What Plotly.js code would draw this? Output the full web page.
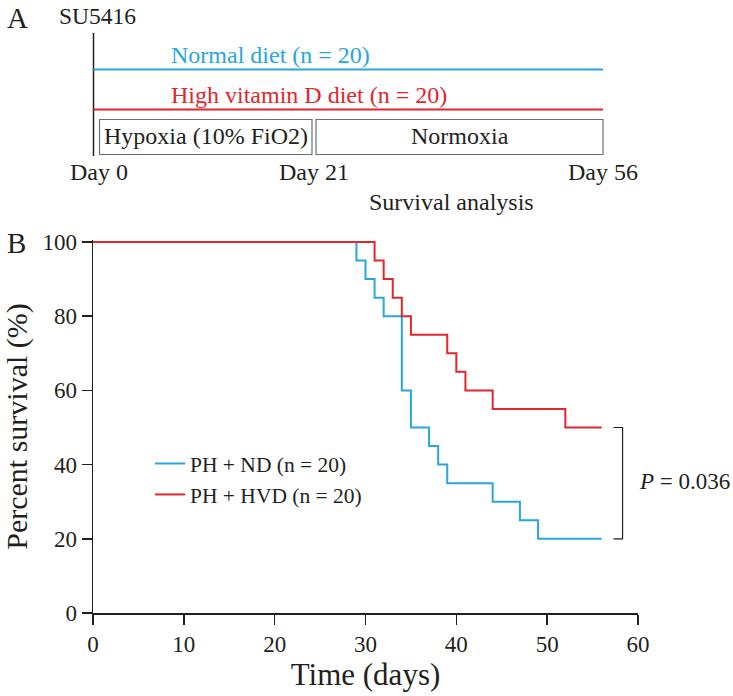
<!DOCTYPE html>
<html>
<head>
<meta charset="utf-8">
<script src="https://cdn.plot.ly/plotly-3.0.1.min.js"></script>
<style>
  body { margin: 0; background: #fff; }
  #chart { width: 733px; height: 696px; }
</style>
</head>
<body>
<div id="chart"></div>
<script>
// Kaplan-Meier steps (day of each drop, survival after it)
var ndDays = [0, 29, 30, 31, 32, 34, 35, 37, 38, 39, 44, 47, 49, 56];
var ndSurv = [100, 95, 90, 85, 80, 60, 50, 45, 40, 35, 30, 25, 20, 20];
var hvdDays = [0, 31, 32, 33, 34, 35, 39, 40, 41, 44, 52, 56];
var hvdSurv = [100, 95, 90, 85, 80, 75, 70, 65, 60, 55, 50, 50];

var seriesNames = ['PH + ND (n = 20)', 'PH + HVD (n = 20)'];
var pValue = '0.036';

// panel A schematic
var stageDays = [0, 21, 56];
var stageLabels = ['Day 0', 'Day 21', 'Day 56'];
var phaseNames = ['Hypoxia (10% FiO2)', 'Normoxia'];
var dietNames = ['Normal diet (n = 20)', 'High vitamin D diet (n = 20)'];

var blue = '#29a6de';
var red = '#e2262c';
var ink = '#231f20';
var serif = 'Liberation Serif, Times New Roman, serif';

// plot area of panel B in pixels
var L = 93, R = 638, T = 240, B = 613;
function fx(px) { return (px - L) / (R - L); }
function fy(py) { return (B - py) / (B - T); }
// schematic timeline is not to scale: day 21 sits at ~314px
function schemX(day) {
  if (day <= 21) return 93.5 + (314 - 93.5) * day / 21;
  return 314 + (603 - 314) * (day - 21) / 35;
}

var trace_nd = {
  x: ndDays, y: ndSurv, name: seriesNames[0],
  type: 'scatter', mode: 'lines',
  line: {shape: 'hv', color: blue, width: 2}
};
var trace_hvd = {
  x: hvdDays, y: hvdSurv, name: seriesNames[1],
  type: 'scatter', mode: 'lines',
  line: {shape: 'hv', color: red, width: 2}
};

var shapes = [];
var annotations = [];

function txt(text, x, y, size, opts) {
  var a = {
    text: text, x: fx(x), y: fy(y), xref: 'paper', yref: 'paper',
    showarrow: false, xanchor: 'center', yanchor: 'middle',
    font: {family: serif, size: size, color: ink}
  };
  return Object.assign(a, opts || {});
}

// panel A
annotations.push(txt('A', 17, 18, 29));
annotations.push(txt('SU5416', 57, 16, 23.5, {xanchor: 'left'}));
shapes.push({type: 'line', xref: 'paper', yref: 'paper',
  x0: fx(schemX(0)), x1: fx(schemX(0)), y0: fy(33), y1: fy(156),
  line: {color: ink, width: 1.5}});
var dietColors = [blue, red];
var dietY = [69.5, 109.5];
dietNames.forEach(function(name, i) {
  shapes.push({type: 'line', xref: 'paper', yref: 'paper',
    x0: fx(schemX(stageDays[0])), x1: fx(schemX(stageDays[2])),
    y0: fy(dietY[i]), y1: fy(dietY[i]),
    line: {color: dietColors[i], width: 2}});
  annotations.push(txt(name, 169, dietY[i] - 14.5, 24,
    {xanchor: 'left', font: {family: serif, size: 24, color: dietColors[i]}}));
});
phaseNames.forEach(function(name, i) {
  var x0 = schemX(stageDays[i]) + (i === 0 ? 6 : 2);
  var x1 = schemX(stageDays[i + 1]) - (i === 0 ? 2 : 0);
  shapes.push({type: 'rect', xref: 'paper', yref: 'paper',
    x0: fx(x0), x1: fx(x1), y0: fy(119.5), y1: fy(154.5),
    line: {color: '#6d6e71', width: 1.2}});
  annotations.push(txt(name, (x0 + x1) / 2, 136.5, 24));
});
stageLabels.forEach(function(lab, i) {
  var cx = i === 0 ? 99 : schemX(stageDays[i]);
  annotations.push(txt(lab, cx, 172, 24));
});
annotations.push(txt('Survival analysis', 451, 202, 24));

// panel B
annotations.push(txt('B', 16, 243, 29));
shapes.push({type: 'path', xref: 'x', yref: 'y',
  path: 'M 57.3 50 L 58.3 50 L 58.3 20 L 57.3 20',
  line: {color: ink, width: 1.2}});
annotations.push({
  text: '<i>P</i> = ' + pValue, x: 59.85, y: 35.5, xref: 'x', yref: 'y',
  xanchor: 'left', yanchor: 'middle', showarrow: false,
  font: {family: serif, size: 23, color: ink}
});

var layout = {
  width: 733,
  height: 696,
  margin: {l: L, r: 733 - R, t: T, b: 696 - B},
  paper_bgcolor: '#ffffff',
  plot_bgcolor: '#ffffff',
  font: {family: serif, color: ink, size: 23},
  showlegend: true,
  legend: {
    x: fx(150), y: fy(443), xanchor: 'left', yanchor: 'top',
    bgcolor: 'rgba(0,0,0,0)', font: {family: serif, size: 21.5, color: ink},
    tracegroupgap: 0
  },
  xaxis: {
    range: [0, 60], dtick: 10, tick0: 0,
    showline: true, linecolor: ink, linewidth: 1.5,
    ticks: 'outside', ticklen: 10, tickwidth: 1.5, tickcolor: ink,
    showgrid: false, zeroline: false, fixedrange: true,
    tickfont: {family: serif, size: 23, color: ink},
    title: {text: 'Time (days)', font: {family: serif, size: 31, color: ink}, standoff: 6}
  },
  yaxis: {
    range: [0, 100 * (B - T) / (B - 242)], tickvals: [0, 20, 40, 60, 80, 100],
    showline: true, linecolor: ink, linewidth: 1.5,
    ticks: 'outside', ticklen: 10, tickwidth: 1.5, tickcolor: ink,
    showgrid: false, zeroline: false, fixedrange: true,
    tickfont: {family: serif, size: 23, color: ink},
    title: {text: 'Percent survival (%)', font: {family: serif, size: 30, color: ink}, standoff: 10}
  },
  shapes: shapes,
  annotations: annotations
};

Plotly.newPlot('chart', [trace_nd, trace_hvd], layout, {displayModeBar: false, staticPlot: true});
</script>
</body>
</html>
